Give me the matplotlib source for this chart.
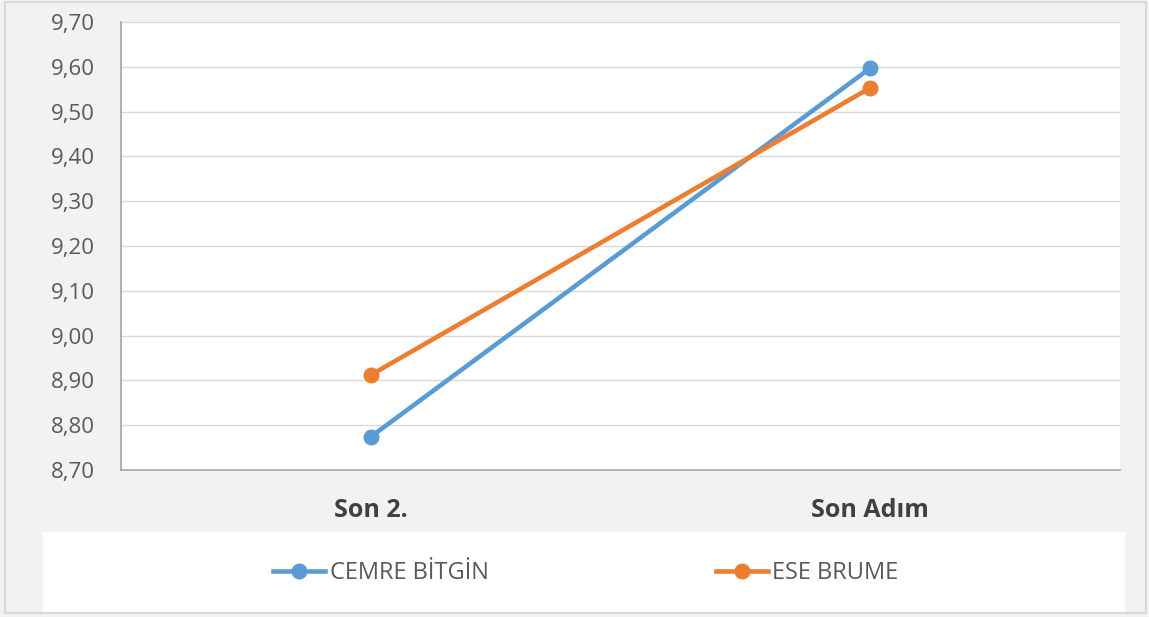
import matplotlib.pyplot as plt
from matplotlib.patches import Rectangle
from matplotlib.ticker import FuncFormatter

kategoriler = ["Son 2.", "Son Adım"]
cemre = [8.774, 9.597]
ese = [8.912, 9.553]
seri_adlari = ["CEMRE BİTGİN", "ESE BRUME"]
y_ticks = [8.70, 8.80, 8.90, 9.00, 9.10, 9.20, 9.30, 9.40, 9.50, 9.60, 9.70]

plt.rcParams['font.family'] = ['Open Sans', 'DejaVu Sans']

fig = plt.figure(figsize=(11.49, 6.17), dpi=100)
fig.patch.set_facecolor('#f2f2f2')

# cerceve ve legend kutusu
fig.patches.append(Rectangle((5 / 1149, 4 / 617), 1141 / 1149, 611 / 617,
                             transform=fig.transFigure, fill=False,
                             edgecolor='#d9d9d9', linewidth=1.5))
fig.patches.append(Rectangle((43 / 1149, 5 / 617), 1082 / 1149, 80 / 617,
                             transform=fig.transFigure, facecolor='white',
                             edgecolor='none'))

ax = fig.add_axes([121 / 1149, 147 / 617, 999 / 1149, 448 / 617])
ax.set_facecolor('white')

x = range(len(kategoriler))
ax.plot(x, cemre, color='#5b9bd5', linewidth=3.3, marker='o', markersize=10.5,
        label=seri_adlari[0], zorder=3)
ax.plot(x, ese, color='#ed7d31', linewidth=3.3, marker='o', markersize=10.5,
        label=seri_adlari[1], zorder=3)

ax.set_xlim(-0.5, 1.5)
ax.set_ylim(8.70, 9.70)
ax.set_yticks(y_ticks)
ax.yaxis.set_major_formatter(FuncFormatter(lambda v, p: f"{v:.2f}".replace('.', ',')))
ax.set_xticks(list(x))
ax.set_xticklabels(kategoriler, fontsize=18, fontweight='bold', color='#404040')
ax.tick_params(axis='y', labelsize=16, colors='#595959', length=0, pad=19)
ax.tick_params(axis='x', length=0, pad=20)
ax.grid(axis='y', color='#d9d9d9', linewidth=1)
ax.set_axisbelow(True)
for s in ['top', 'right']:
    ax.spines[s].set_visible(False)
for s in ['left', 'bottom']:
    ax.spines[s].set_color('#a6a6a6')
    ax.spines[s].set_linewidth(1.2)

fig.legend(loc='center', bbox_to_anchor=(0.51, 0.0713), ncol=2, frameon=False,
           fontsize=17, labelcolor='#595959', handlelength=2.2,
           handletextpad=0.2, columnspacing=9.6)

fig.savefig('out.png', dpi=100, facecolor=fig.get_facecolor())
